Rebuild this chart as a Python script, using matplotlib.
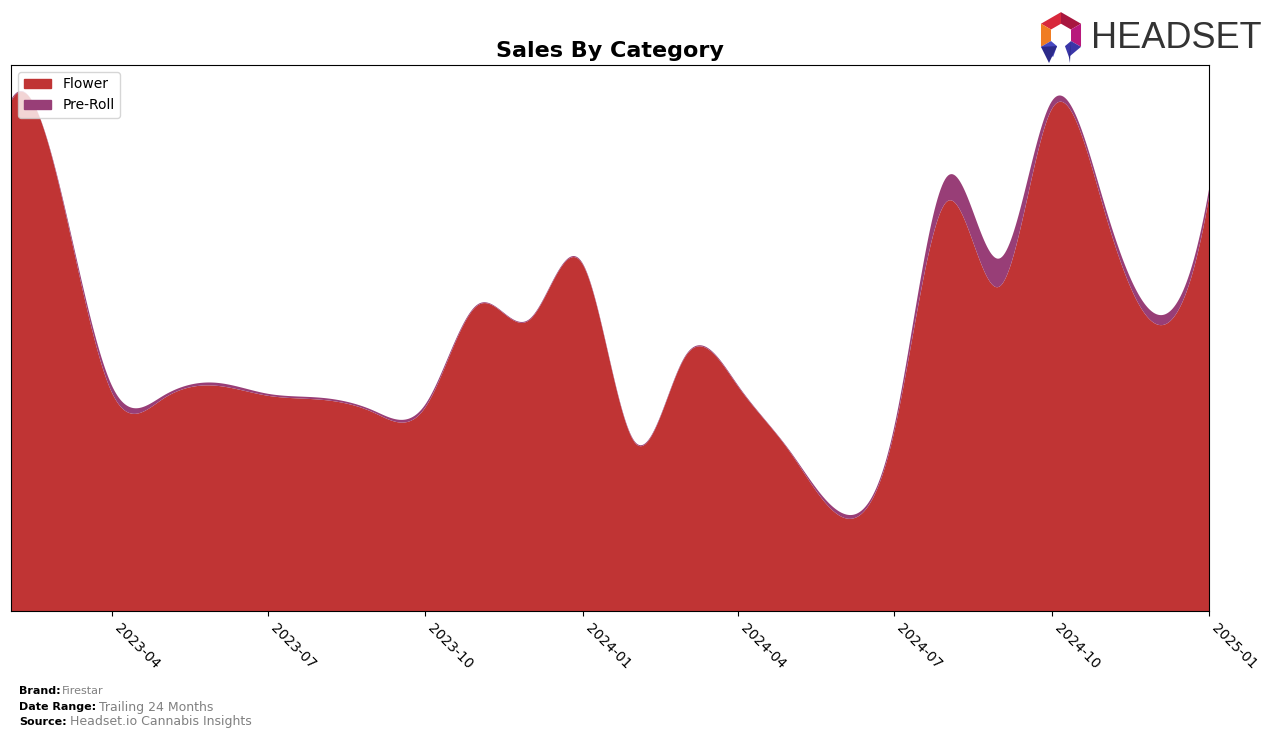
import numpy as np
import pandas as pd
import matplotlib
matplotlib.use("Agg")
import matplotlib.pyplot as plt
import matplotlib.dates as mdates
from matplotlib.patches import Polygon, Patch

# monthly sales (arbitrary units)
months = pd.date_range("2023-02-01", "2025-01-01", freq="MS")
flower = [511, 428, 219, 213, 226, 216, 212, 199, 204, 307, 292, 348,
          168, 255, 225, 160, 94, 179, 411, 326, 503, 401, 288, 415]
preroll = [2, 2, 7, 3, 3, 2, 2, 2, 3, 1, 1, 1,
           1, 1, 1, 1, 4, 5, 25, 28, 8, 7, 10, 8]
categories = ["Flower", "Pre-Roll"]
colors = ["#c03434", "#983e77"]
tick_dates = pd.date_range("2023-04-01", "2025-01-01", freq="3MS")


def cubic_spline(x, y, xs):
    # not-a-knot cubic spline, numpy only
    x = np.asarray(x, float)
    y = np.asarray(y, float)
    n = len(x)
    h = np.diff(x)
    A = np.zeros((n, n))
    r = np.zeros(n)
    A[0, 0], A[0, 1], A[0, 2] = h[1], -(h[0] + h[1]), h[0]
    A[-1, -3], A[-1, -2], A[-1, -1] = h[-1], -(h[-2] + h[-1]), h[-2]
    for i in range(1, n - 1):
        A[i, i - 1] = h[i - 1]
        A[i, i] = 2 * (h[i - 1] + h[i])
        A[i, i + 1] = h[i]
        r[i] = 6 * ((y[i + 1] - y[i]) / h[i] - (y[i] - y[i - 1]) / h[i - 1])
    M = np.linalg.solve(A, r)
    idx = np.clip(np.searchsorted(x, xs) - 1, 0, n - 2)
    x0, x1 = x[idx], x[idx + 1]
    hh = x1 - x0
    a = (x1 - xs) / hh
    b = (xs - x0) / hh
    return (a * y[idx] + b * y[idx + 1]
            + ((a ** 3 - a) * M[idx] + (b ** 3 - b) * M[idx + 1]) * hh ** 2 / 6)


xnum = mdates.date2num(months)
xs = np.linspace(xnum[0], xnum[-1], 800)
flower_s = np.clip(cubic_spline(xnum, flower, xs), 0, None)
preroll_s = np.clip(cubic_spline(xnum, preroll, xs), 0, None)
total_s = flower_s + preroll_s

fig = plt.figure(figsize=(12.76, 7.39), dpi=100)
ax = fig.add_axes([11 / 1276, 128 / 739, 1198 / 1276, 546 / 739])

ax.stackplot(mdates.num2date(xs), flower_s, preroll_s, colors=colors,
             labels=categories)
ax.set_xlim(months[0], months[-1])
ax.set_ylim(0, total_s.max() * 1.05)
ax.set_yticks([])
ax.set_xticks(tick_dates)
ax.xaxis.set_major_formatter(mdates.DateFormatter("%Y-%m"))
plt.setp(ax.get_xticklabels(), rotation=-45, ha="left", fontsize=10)
ax.set_title("Sales By Category", fontsize=16, fontweight="bold", pad=6)

handles = [Patch(color=c, label=l) for c, l in zip(colors, categories)]
ax.legend(handles=handles, loc="upper left", fontsize=10)

# footer
fig.text(19 / 1276, 1 - 691 / 739, "Brand:", fontsize=8, fontweight="bold", va="center")
fig.text(62 / 1276, 1 - 691 / 739, "Firestar", fontsize=8, color="grey", va="center")
fig.text(19 / 1276, 1 - 707 / 739, "Date Range:", fontsize=8, fontweight="bold", va="center")
fig.text(99 / 1276, 1 - 707 / 739, "Trailing 24 Months", fontsize=9, color="grey", va="center")
fig.text(19 / 1276, 1 - 722 / 739, "Source:", fontsize=8, fontweight="bold", va="center")
fig.text(70 / 1276, 1 - 722 / 739, "Headset.io Cannabis Insights", fontsize=9, color="grey", va="center")

# logo
lax = fig.add_axes([1034 / 1276, 1 - 63 / 739, 54 / 1276, 52 / 739])
lax.set_xlim(-1.1, 1.1)
lax.set_ylim(-1.2, 1.05)
lax.set_aspect("equal")
lax.axis("off")
ro, ri = 1.0, 0.5


def pt(r, deg):
    return (r * np.cos(np.radians(deg)), r * np.sin(np.radians(deg)))


segs = [(90, 150, "#d8283c"), (30, 90, "#a8173f"), (150, 210, "#f07c22"),
        (330, 390, "#b8197c"), (210, 250, "#4848c0"), (290, 330, "#3a36a8")]
for a0, a1, c in segs:
    lax.add_patch(Polygon([pt(ro, a0), pt(ro, a1), pt(ri, a1), pt(ri, a0)],
                          closed=True, color=c, lw=0))
for a0, a1, c in [(210, 250, "#2c2a8a"), (290, 330, "#2c2a8a")]:
    p0, p1 = pt(ro, a0), pt(ri, a1)
    tip = ((p0[0] + p1[0]) / 2, -1.2)
    lax.add_patch(Polygon([pt(ro, a0), pt(ri, a1), tip], closed=True, color=c, lw=0))
fig.text(1091 / 1276, 1 - 38 / 739, "HEADSET", fontsize=26, color="#333333",
         family="Liberation Sans", va="center", ha="left")

fig.savefig("out.png", dpi=100)
